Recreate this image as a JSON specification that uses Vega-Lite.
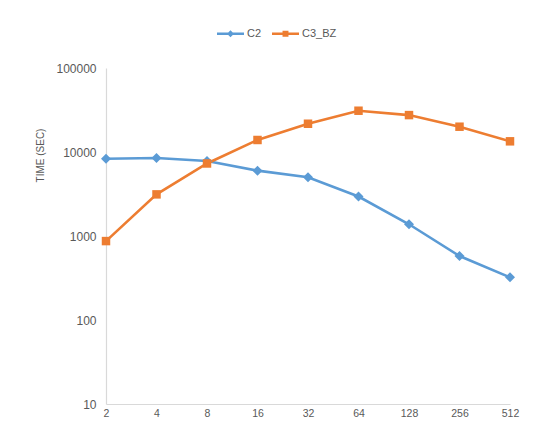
{
  "$schema": "https://vega.github.io/schema/vega-lite/v6.json",
  "width": 404,
  "height": 336,
  "autosize": {"type": "none"},
  "padding": {"left": 106, "top": 68, "right": 28, "bottom": 23},
  "background": "white",
  "config": {"view": {"stroke": null}, "font": "Liberation Sans"},
  "data": {
    "values": [
      {"threads": 2, "series": "C2", "time": 8300},
      {"threads": 4, "series": "C2", "time": 8500},
      {"threads": 8, "series": "C2", "time": 7800},
      {"threads": 16, "series": "C2", "time": 6000},
      {"threads": 32, "series": "C2", "time": 5000},
      {"threads": 64, "series": "C2", "time": 2950},
      {"threads": 128, "series": "C2", "time": 1380},
      {"threads": 256, "series": "C2", "time": 578},
      {"threads": 512, "series": "C2", "time": 322},
      {"threads": 2, "series": "C3_BZ", "time": 870},
      {"threads": 4, "series": "C3_BZ", "time": 3130},
      {"threads": 8, "series": "C3_BZ", "time": 7300},
      {"threads": 16, "series": "C3_BZ", "time": 13900},
      {"threads": 32, "series": "C3_BZ", "time": 21700},
      {"threads": 64, "series": "C3_BZ", "time": 31000},
      {"threads": 128, "series": "C3_BZ", "time": 27500},
      {"threads": 256, "series": "C3_BZ", "time": 20000},
      {"threads": 512, "series": "C3_BZ", "time": 13400}
    ]
  },
  "encoding": {
    "x": {
      "field": "threads",
      "type": "ordinal",
      "scale": {"type": "point", "padding": 0},
      "axis": {
        "title": null,
        "labelAngle": 0,
        "labelFontSize": 10.5,
        "labelColor": "#595959",
        "labelPadding": 4,
        "ticks": false,
        "domainColor": "#d9d9d9",
        "domainWidth": 1.2,
        "grid": false
      }
    },
    "y": {
      "field": "time",
      "type": "quantitative",
      "scale": {"type": "log", "domain": [10, 100000]},
      "axis": {
        "title": "TIME (SEC)",
        "titleFontSize": 10,
        "titleFontWeight": "normal",
        "titleColor": "#595959",
        "titleX": -66,
        "titleY": 87,
        "titleAngle": -90,
        "titleBaseline": "middle",
        "labelFontSize": 12,
        "labelColor": "#595959",
        "labelPadding": 10,
        "values": [10, 100, 1000, 10000, 100000],
        "format": "d",
        "ticks": false,
        "grid": false,
        "domainColor": "#d9d9d9",
        "domainWidth": 1.2
      }
    },
    "color": {
      "field": "series",
      "type": "nominal",
      "scale": {"domain": ["C2", "C3_BZ"], "range": ["#5B9BD5", "#ED7D31"]},
      "legend": {
        "title": null,
        "orient": "none",
        "direction": "horizontal",
        "legendX": 111,
        "legendY": -48,
        "symbolSize": 729,
        "symbolStrokeWidth": 0,
        "labelFontSize": 11,
        "labelColor": "#595959",
        "labelOffset": 3,
        "columnPadding": 10,
        "encode": {
          "symbols": {
            "enter": {
              "shape": {"signal": "datum.value === 'C2' ? 'M-1,-0.1H1V0.1H-1Z M0,-0.26L0.26,0L0,0.26L-0.26,0Z' : 'M-1,-0.1H1V0.1H-1Z M-0.22,-0.22H0.22V0.22H-0.22Z'"}
            },
            "update": {
              "shape": {"signal": "datum.value === 'C2' ? 'M-1,-0.1H1V0.1H-1Z M0,-0.26L0.26,0L0,0.26L-0.26,0Z' : 'M-1,-0.1H1V0.1H-1Z M-0.22,-0.22H0.22V0.22H-0.22Z'"},
              "fill": {"signal": "datum.value === 'C2' ? '#5B9BD5' : '#ED7D31'"},
              "size": {"value": 729},
              "strokeWidth": {"value": 0},
              "opacity": {"value": 1}
            }
          }
        }
      }
    }
  },
  "layer": [
    {"mark": {"type": "line", "strokeWidth": 2.6}},
    {
      "transform": [{"filter": "datum.series === 'C2'"}],
      "mark": {"type": "point", "filled": true, "opacity": 1, "shape": "diamond", "size": 100}
    },
    {
      "transform": [{"filter": "datum.series === 'C3_BZ'"}],
      "mark": {"type": "point", "filled": true, "opacity": 1, "shape": "square", "size": 72}
    }
  ]
}
